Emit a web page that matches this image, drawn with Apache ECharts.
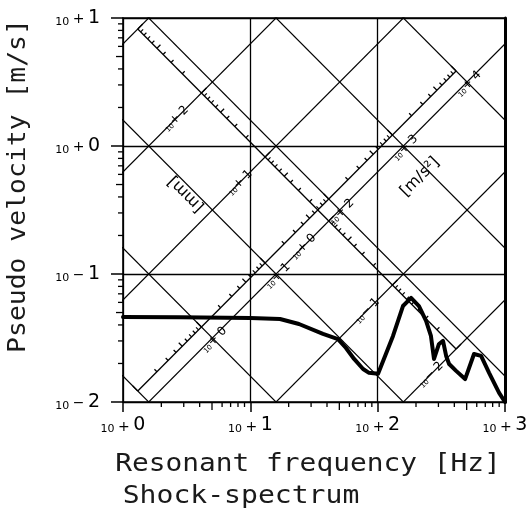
<!DOCTYPE html>
<html><head><meta charset="utf-8">
<script src="https://cdn.jsdelivr.net/npm/echarts@6/dist/echarts.min.js"></script>
<style>html,body{margin:0;padding:0;background:#fff}#c{width:532px;height:511px}</style>
</head><body><div id="c"></div>
<script>
// ---------------- data ----------------
const freqHz    = [1, 2.8, 10, 17.1, 24.1, 37.2, 48.8, 56.4, 65.3, 76.8, 85.5, 100.7, 132, 158, 183, 211, 240, 262, 277, 303, 326, 345, 364, 413, 486, 571, 649, 750, 899, 1000];
const pseudoVel = [0.0461, 0.046, 0.0453, 0.0445, 0.0407, 0.034, 0.031, 0.0264, 0.0217, 0.0181, 0.0169, 0.0166, 0.0328, 0.0562, 0.065, 0.0562, 0.043, 0.0328, 0.0217, 0.0284, 0.030, 0.0229, 0.0198, 0.0175, 0.0151, 0.0237, 0.0229, 0.0169, 0.0118, 0.0100];

const xTickValues = [1, 10, 100, 1000];
const xTickSign   = ['+', '+', '+', '+'];
const xTickExp    = ['0', '1', '2', '3'];
const yTickValues = [0.01, 0.1, 1, 10];
const yTickSign   = ['\u2212', '\u2212', '+', '+'];
const yTickExp    = ['2', '1', '0', '1'];

const dispGrid_m = [1, 0.1, 0.01, 0.001, 0.0001, 0.00001];   // constant displacement lines
const accGrid    = [0.1, 1, 10, 100, 1000, 10000];           // constant acceleration lines (m/s^2)

const rulerMantissas   = [1, 2, 3, 4, 5, 6, 7, 8, 9];
const dispRulerDecades = [0.00001, 0.0001, 0.001, 0.01, 0.1];   // m
const accRulerDecades  = [0.1, 1, 10, 100, 1000];               // m/s^2

const dispLabel_m   = [0.1, 0.01, 0.001, 0.0001, 0.00001];
const dispLabelExp  = ['+ 2', '+ 1', '+ 0', '\u2212 1', '\u2212 2'];   // in mm
const accLabelVal   = [1, 10, 100, 1000, 10000];
const accLabelExp   = ['+ 0', '+ 1', '+ 2', '+ 3', '+ 4'];

const axisMinorMant = [2, 3, 4, 5, 6, 7, 8, 9];
const xDecades = [1, 10, 100];
const yDecades = [0.01, 0.1, 1];

// ---------------- helpers ----------------
const TWO_PI = 2 * Math.PI;
const DISP_SUM = 1.03;   // ruler line position: log V + log f
const ACC_DIFF = -2.03;  // ruler line position: log V - log f
function dispPoint(D) { const c = Math.log10(TWO_PI * D); return [Math.pow(10, (DISP_SUM - c) / 2), Math.pow(10, (DISP_SUM + c) / 2)]; }
function accPoint(A)  { const c = Math.log10(A / TWO_PI); return [Math.pow(10, (c - ACC_DIFF) / 2), Math.pow(10, (c + ACC_DIFF) / 2)]; }

const FONT = 'DejaVu Sans';
const INK = '#000';

const series = [];
// diagonal grid
dispGrid_m.forEach(D => series.push({
  type: 'line', silent: true, symbol: 'none', clip: true, z: 2,
  data: [[0.3, TWO_PI * 0.3 * D], [3000, TWO_PI * 3000 * D]],
  lineStyle: { color: INK, width: 1.2 }
}));
accGrid.forEach(A => series.push({
  type: 'line', silent: true, symbol: 'none', clip: true, z: 2,
  data: [[0.3, A / (TWO_PI * 0.3)], [3000, A / (TWO_PI * 3000)]],
  lineStyle: { color: INK, width: 1.2 }
}));
// ruler lines
series.push({ type: 'line', silent: true, symbol: 'none', z: 3,
  data: [dispPoint(1), dispPoint(0.00001)], lineStyle: { color: INK, width: 1.3 } });
series.push({ type: 'line', silent: true, symbol: 'none', z: 3,
  data: [accPoint(0.1), accPoint(10000)], lineStyle: { color: INK, width: 1.3 } });

// ruler ticks
const dispTicks = [], accTicks = [];
dispRulerDecades.forEach(d => rulerMantissas.forEach(k => { const p = dispPoint(k * d); dispTicks.push([p[0], p[1], k]); }));
dispTicks.push(dispPoint(1).concat([1]));
accRulerDecades.forEach(d => rulerMantissas.forEach(k => { const p = accPoint(k * d); accTicks.push([p[0], p[1], k]); }));
accTicks.push(accPoint(10000).concat([1]));

function tickRenderer(dirF, dirV) {
  return function (params, api) {
    const f = api.value(0), v = api.value(1), k = api.value(2);
    const p = api.coord([f, v]);
    const q = api.coord([f * dirF, v * dirV]);
    const dx = q[0] - p[0], dy = q[1] - p[1], n = Math.hypot(dx, dy);
    const len = k === 1 ? 7 : (k === 5 ? 5 : 3.5);
    return { type: 'line', shape: { x1: p[0], y1: p[1], x2: p[0] + dx / n * len, y2: p[1] + dy / n * len },
      style: { stroke: INK, lineWidth: 1.2 } };
  };
}
series.push({ type: 'custom', silent: true, z: 3, data: dispTicks, renderItem: tickRenderer(1.2, 1.2) });
series.push({ type: 'custom', silent: true, z: 3, data: accTicks, renderItem: tickRenderer(1 / 1.2, 1.2) });

// ruler labels
const smallRich = {
  a: { fontSize: 7, fontFamily: FONT, color: INK, verticalAlign: 'bottom' },
  b: { fontSize: 12, fontFamily: FONT, color: INK, verticalAlign: 'bottom' }
};
function labelRenderer(texts, dirF, dirV, dist) {
  return function (params, api) {
    const f = api.value(0), v = api.value(1), i = api.value(2);
    const p = api.coord([f, v]);
    const q = api.coord([f * dirF, v * dirV]);
    const dx = q[0] - p[0], dy = q[1] - p[1], n = Math.hypot(dx, dy);
    return { type: 'text', x: p[0] + dx / n * dist, y: p[1] + dy / n * dist, rotation: Math.PI / 4,
      style: { text: '{a|10}{b|' + texts[i] + '}', rich: smallRich, align: 'center', verticalAlign: 'middle', fill: INK } };
  };
}
series.push({ type: 'custom', silent: true, z: 4,
  data: dispLabel_m.map((D, i) => dispPoint(D).concat([i])),
  renderItem: labelRenderer(dispLabelExp, 1 / 1.2, 1 / 1.2, 36) });
series.push({ type: 'custom', silent: true, z: 4,
  data: accLabelVal.map((A, i) => accPoint(A).concat([i])),
  renderItem: labelRenderer(accLabelExp, 1.2, 1 / 1.2, 18) });

// axis minor ticks
const xMinor = [], yMinor = [];
xDecades.forEach(d => axisMinorMant.forEach(k => xMinor.push([k * d, 0.01, k])));
yDecades.forEach(d => axisMinorMant.forEach(k => yMinor.push([1, k * d, k])));
series.push({ type: 'custom', silent: true, z: 5, data: xMinor,
  renderItem: (params, api) => { const p = api.coord([api.value(0), api.value(1)]); const len = api.value(2) === 5 ? 8 : 5;
    return { type: 'line', shape: { x1: p[0], y1: p[1], x2: p[0], y2: p[1] + len }, style: { stroke: INK, lineWidth: 1.3 } }; } });
series.push({ type: 'custom', silent: true, z: 5, data: yMinor,
  renderItem: (params, api) => { const p = api.coord([api.value(0), api.value(1)]); const len = api.value(2) === 5 ? 7 : 5;
    return { type: 'line', shape: { x1: p[0] - len, y1: p[1], x2: p[0] + 1, y2: p[1] }, style: { stroke: INK, lineWidth: 1.3 } }; } });

// the shock spectrum
series.push({ type: 'line', name: 'Shock-spectrum', symbol: 'none', clip: true, z: 10,
  data: freqHz.map((f, i) => [f, pseudoVel[i]]),
  lineStyle: { color: INK, width: 4, join: 'round', cap: 'round' } });

const tickRich = {
  a: { fontSize: 11, fontFamily: FONT, color: INK, verticalAlign: 'bottom' },
  c: { fontSize: 14, fontFamily: FONT, color: INK, verticalAlign: 'bottom', padding: [0, 0, 1, 0] },
  b: { fontSize: 19, fontFamily: FONT, color: INK, verticalAlign: 'bottom' }
};
function fmt(values, signs, exps) {
  return function (val) {
    const i = values.findIndex(t => Math.abs(Math.log10(t) - Math.log10(val)) < 1e-6);
    return i < 0 ? '' : '{a|10 }{c|' + signs[i] + '}{a| }{b|' + exps[i] + '}';
  };
}

const option = {
  animation: false,
  backgroundColor: '#fff',
  grid: { left: 123, top: 18, width: 382, height: 384, show: false },
  xAxis: [
    { type: 'log', logBase: 10, min: 1, max: 1000, position: 'bottom',
      axisLine: { show: true, onZero: false, lineStyle: { color: INK, width: 1.6 } },
      axisTick: { show: true, length: 10, lineStyle: { color: INK, width: 1.5 } },
      axisLabel: { margin: 14, formatter: fmt(xTickValues, xTickSign, xTickExp), rich: tickRich },
      splitLine: { show: true, lineStyle: { color: INK, width: 1.3 } } },
    { type: 'log', logBase: 10, min: 1, max: 1000, position: 'top',
      axisLine: { show: true, onZero: false, lineStyle: { color: INK, width: 1.5 } },
      axisTick: { show: false }, axisLabel: { show: false }, splitLine: { show: false } }
  ],
  yAxis: [
    { type: 'log', logBase: 10, min: 0.01, max: 10, position: 'left',
      axisLine: { show: true, onZero: false, lineStyle: { color: INK, width: 1.6 } },
      axisTick: { show: true, length: 12, lineStyle: { color: INK, width: 1.5 } },
      axisLabel: { margin: 23, formatter: fmt(yTickValues, yTickSign, yTickExp), rich: tickRich },
      splitLine: { show: true, lineStyle: { color: INK, width: 1.3 } } },
    { type: 'log', logBase: 10, min: 0.01, max: 10, position: 'right',
      axisLine: { show: true, onZero: false, lineStyle: { color: INK, width: 3 } },
      axisTick: { show: false }, axisLabel: { show: false }, splitLine: { show: false } }
  ],
  graphic: [
    { type: 'text', x: 19, y: 186, rotation: Math.PI / 2, scaleX: 1.1,
      style: { text: 'Pseudo velocity [m/s]', font: '24px "DejaVu Sans Mono"', fill: '#1a1a1a', align: 'center', verticalAlign: 'middle' } },
    { type: 'text', x: 308, y: 465, scaleX: 1.16,
      style: { text: 'Resonant frequency [Hz]', font: '24px "DejaVu Sans Mono"', fill: '#1a1a1a', align: 'center', verticalAlign: 'middle' } },
    { type: 'text', x: 241, y: 497, scaleX: 1.17,
      style: { text: 'Shock-spectrum', font: '24px "DejaVu Sans Mono"', fill: '#1a1a1a', align: 'center', verticalAlign: 'middle' } },
    { type: 'text', x: 186, y: 194, rotation: 3 * Math.PI / 4,
      style: { text: '[mm]', font: '16px "DejaVu Sans"', fill: INK, align: 'center', verticalAlign: 'middle' } },
    { type: 'text', x: 420, y: 177, rotation: Math.PI / 4,
      style: { text: '[m/s\u00b2]', font: '16px "DejaVu Sans"', fill: INK, align: 'center', verticalAlign: 'middle' } }
  ],
  series: series
};
const chart = echarts.init(document.getElementById('c'));
chart.setOption(option);
</script></body></html>
